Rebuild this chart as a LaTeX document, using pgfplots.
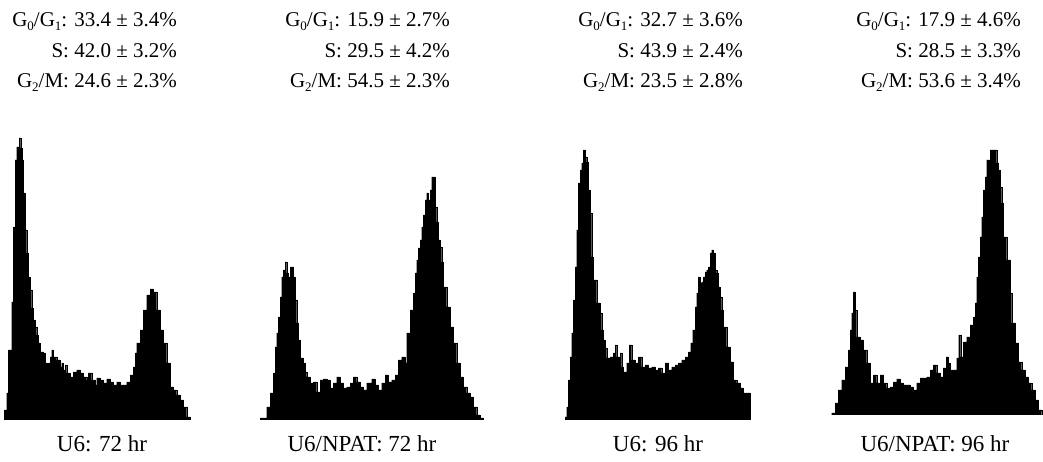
\documentclass[border=0pt]{standalone}
\usepackage{fontspec}
\setmainfont{Liberation Serif}
\usepackage{pgfplots}
\pgfplotsset{compat=1.18}

\newcommand{\sub}[1]{\raisebox{-0.35ex}{\fontsize{13bp}{13bp}\selectfont#1}}
\newcommand{\statfont}{\fontsize{21bp}{25bp}\selectfont}
\newcommand{\labfont}{\fontsize{23bp}{27bp}\selectfont}

\pgfplotsset{
  histo/.style={
    hide axis, scale only axis, enlargelimits=false,
    ymin=0, ymax=300, height=300bp, xmin=0, anchor=south west
  },
  dna/.style={fill=black, draw=black, line width=0.3bp, const plot}
}
\tikzset{stat/.style={anchor=base east, inner sep=0pt, font=\statfont},
         lab/.style={anchor=base, inner sep=0pt, font=\labfont}}

\begin{document}
\begin{tikzpicture}[x=1bp, y=1bp]
\path (0,0) rectangle (1043,462);

% U6: 72 hr
\begin{axis}[histo, at={(0bp,42bp)}, xmax=600, width=200bp]
\addplot[dna] coordinates {
(10,0)(12,10)(20,27)(25,70)(35,118)(40,193)(45,260)(50,273)(57,282)(62,272)
(66,260)(70,227)(75,190)(80,167)(85,143)(90,130)(95,112)(100,100)(105,93)
(110,85)(115,77)(120,68)(130,67)(135,57)(145,57)(150,63)(155,70)(160,63)
(170,60)(180,53)(185,57)(190,50)(195,55)(200,47)(210,43)(220,48)(230,50)
(240,47)(250,43)(260,40)(265,47)(275,40)(285,35)(290,42)(300,40)(310,37)
(320,41)(330,38)(340,35)(350,38)(360,35)(370,35)(380,38)(390,45)(400,53)
(405,67)(410,77)(420,90)(430,110)(440,125)(450,131)(460,128)(470,110)
(480,90)(490,77)(500,57)(510,33)(520,30)(530,25)(540,20)(550,13)(560,3)(570,0)
} \closedcycle;
\end{axis}

% U6/NPAT: 72 hr
\begin{axis}[histo, at={(250bp,42bp)}, xmax=720, width=240bp]
\addplot[dna] coordinates {
(30,2)(50,13)(60,27)(70,47)(75,73)(80,87)(85,103)(90,123)(95,143)(100,150)
(105,158)(110,147)(115,143)(120,153)(125,153)(130,143)(135,120)(140,97)
(145,80)(150,62)(160,57)(165,48)(170,43)(180,37)(190,38)(200,28)(210,40)
(220,41)(230,40)(240,32)(250,37)(260,43)(270,37)(280,32)(290,33)(300,37)
(310,43)(320,38)(330,33)(340,30)(350,37)(365,41)(375,35)(385,30)(395,37)
(405,45)(415,38)(425,40)(435,45)(445,60)(455,63)(465,57)(470,87)(480,110)
(490,127)(495,147)(500,160)(505,172)(510,180)(515,193)(520,205)(525,220)
(530,227)(535,220)(540,230)(545,243)(550,243)(555,213)(560,198)(565,180)
(570,173)(575,158)(580,133)(590,113)(600,93)(610,77)(620,57)(630,43)
(640,33)(650,27)(660,23)(670,13)(680,5)(690,2)(700,0)
} \closedcycle;
\end{axis}

% U6: 96 hr
\begin{axis}[histo, at={(520bp,42bp)}, xmax=720, width=240bp]
\addplot[dna] coordinates {
(135,3)(140,13)(145,40)(150,63)(155,87)(160,120)(165,153)(170,190)(175,237)
(180,250)(185,257)(190,270)(195,263)(200,258)(205,230)(210,207)(215,163)
(220,140)(230,117)(240,107)(245,90)(250,80)(255,72)(260,62)(270,63)(280,67)
(285,75)(290,63)(300,67)(305,53)(310,48)(320,57)(328,75)(335,60)(345,57)
(355,63)(365,53)(375,55)(385,52)(395,53)(405,50)(415,52)(425,47)(435,57)
(445,50)(455,53)(465,55)(475,57)(485,60)(495,63)(505,68)(512,77)(518,90)
(525,113)(530,127)(535,143)(540,137)(545,138)(550,143)(555,148)(560,150)
(565,153)(570,167)(575,170)(580,167)(585,150)(590,147)(595,133)(600,123)
(605,110)(610,93)(620,73)(630,58)(640,40)(650,37)(660,32)(670,27)(680,27)(690,0)
} \closedcycle;
\end{axis}

% U6/NPAT: 96 hr
\begin{axis}[histo, at={(810bp,47bp)}, xmax=699, width=233bp]
\addplot[dna] coordinates {
(65,2)(75,12)(85,25)(95,35)(105,48)(115,65)(120,85)(125,102)(130,123)
(135,105)(140,78)(150,75)(160,65)(170,52)(180,32)(190,40)(200,32)(210,40)
(220,32)(230,27)(240,28)(250,33)(260,36)(270,32)(280,30)(290,30)(300,28)
(310,25)(320,32)(330,37)(340,37)(350,38)(360,45)(370,50)(380,42)(390,38)
(400,47)(408,58)(415,52)(420,45)(430,45)(440,57)(446,80)(452,58)(460,73)
(470,78)(480,90)(490,98)(495,112)(500,138)(505,158)(510,178)(515,198)
(520,225)(525,238)(530,255)(540,265)(550,265)(560,252)(565,245)(570,228)
(575,212)(580,178)(590,155)(600,122)(605,92)(615,72)(625,53)(635,45)
(645,38)(655,32)(665,25)(675,15)(685,5)(695,0)
} \closedcycle;
\end{axis}

% percentages above each histogram
\node[stat] at (177,435) {G\sub{0}/G\sub{1}: 33.4 ± 3.4\%};
\node[stat] at (177,404) {S: 42.0 ± 3.2\%};
\node[stat] at (177,374) {G\sub{2}/M: 24.6 ± 2.3\%};

\node[stat] at (450,435) {G\sub{0}/G\sub{1}: 15.9 ± 2.7\%};
\node[stat] at (450,404) {S: 29.5 ± 4.2\%};
\node[stat] at (450,374) {G\sub{2}/M: 54.5 ± 2.3\%};

\node[stat] at (743,435) {G\sub{0}/G\sub{1}: 32.7 ± 3.6\%};
\node[stat] at (743,404) {S: 43.9 ± 2.4\%};
\node[stat] at (743,374) {G\sub{2}/M: 23.5 ± 2.8\%};

\node[stat] at (1021,435) {G\sub{0}/G\sub{1}: 17.9 ± 4.6\%};
\node[stat] at (1021,404) {S: 28.5 ± 3.3\%};
\node[stat] at (1021,374) {G\sub{2}/M: 53.6 ± 3.4\%};

% sample labels
\node[lab] at (102,10) {U6: 72 hr};
\node[lab] at (362,10) {U6/NPAT: 72 hr};
\node[lab] at (658,10) {U6: 96 hr};
\node[lab] at (935,10) {U6/NPAT: 96 hr};
\end{tikzpicture}
\end{document}
